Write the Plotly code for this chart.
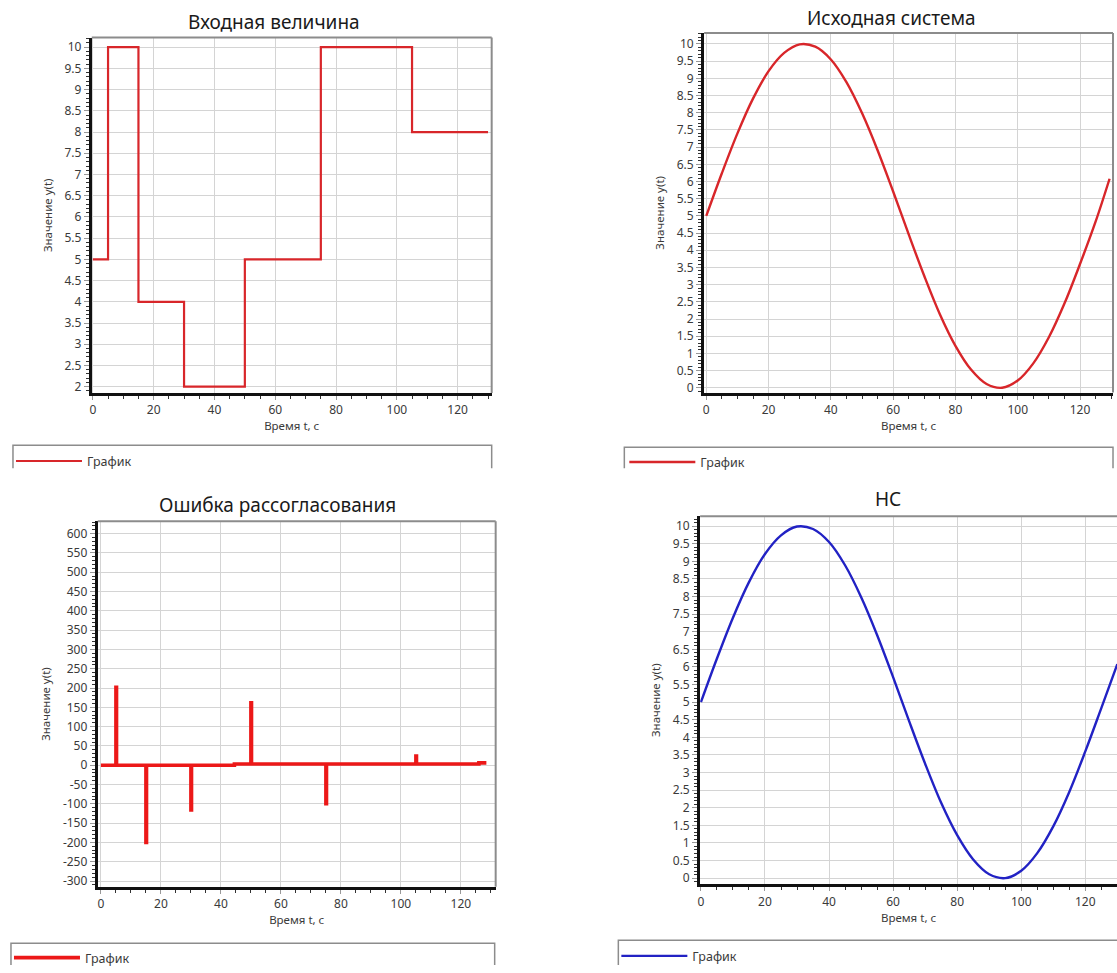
import plotly.graph_objects as go

# ---------------- data ----------------
input_t = [0, 5, 15, 30, 50, 75, 105, 130]
input_y = [5, 10, 4, 2, 5, 10, 8, 8]

sys_t = [0, 5, 10, 15, 20, 25, 30, 35, 40, 45, 50, 55, 60, 65, 70,
         75, 80, 85, 90, 95, 100, 105, 110, 115, 120, 125, 129.5]
sys_y = [5.0, 6.24, 7.4, 8.41, 9.21, 9.74, 9.99, 9.92, 9.55, 8.89, 7.99, 6.91, 5.71, 4.46, 3.25,
         2.14, 1.22, 0.53, 0.11, 0.0, 0.21, 0.71, 1.47, 2.45, 3.6, 4.83, 6.08]

err_t = [0, 5, 5.2, 15, 15.2, 30, 30.2, 44.5, 50, 50.2, 75, 75.2, 105, 105.2, 126, 128.5]
err_y = [0, 202, 0, -200, 0, -116, 0, 3, 162, 3, -100, 3, 24, 3, 6, 6]

nn_t = [0, 5, 10, 15, 20, 25, 30, 35, 40, 45, 50, 55, 60, 65, 70,
        75, 80, 85, 90, 95, 100, 105, 110, 115, 120, 125, 130]
nn_y = [5.0, 6.24, 7.4, 8.41, 9.21, 9.74, 9.99, 9.92, 9.55, 8.89, 7.99, 6.91, 5.71, 4.46, 3.25,
        2.14, 1.22, 0.53, 0.11, 0.0, 0.21, 0.71, 1.47, 2.45, 3.6, 4.83, 6.08]

x_ticks = [0, 20, 40, 60, 80, 100, 120]
y_ticks_in = [2 + 0.5 * i for i in range(17)]
y_ticks_sin = [0.5 * i for i in range(21)]
y_ticks_err = [-300 + 50 * i for i in range(19)]

titles = ["Входная величина", "Исходная система", "Ошибка рассогласования", "НС"]
x_title = "Время t, с"
y_title = "Значение y(t)"
legend_name = "График"

# ---------------- styling helpers ----------------
W, H = 1117, 973


def px(x):
    return x / W


def py(y):
    return 1 - y / H


def fmt(v):
    return ("%g" % v)


RED = "#d8262a"
RED2 = "#ec1818"
BLUE = "#2222c4"
FAM = "Noto Sans, Open Sans, sans-serif"
TICKFONT = dict(family=FAM, size=12, color="#3a3a3a")
TITLEFONT = dict(family=FAM, size=11.5, color="#3a3a3a")

fig = go.Figure()
fig.add_trace(go.Scatter(x=input_t, y=input_y, mode="lines", line=dict(color=RED, width=2.2, shape="hv"),
                         name=legend_name, xaxis="x", yaxis="y", legend="legend"))
fig.add_trace(go.Scatter(x=sys_t, y=sys_y, mode="lines",
                         line=dict(color=RED, width=2.4, shape="spline", smoothing=1.0, simplify=False),
                         name=legend_name, xaxis="x2", yaxis="y2", legend="legend2"))
fig.add_trace(go.Scatter(x=err_t, y=err_y, mode="lines", line=dict(color=RED2, width=3.6, shape="hv"),
                         name=legend_name, xaxis="x3", yaxis="y3", legend="legend3"))
fig.add_trace(go.Scatter(x=nn_t, y=nn_y, mode="lines",
                         line=dict(color=BLUE, width=2.4, shape="spline", smoothing=1.0, simplify=False),
                         name=legend_name, xaxis="x4", yaxis="y4", legend="legend4"))


def xax(domain, rng, anchor):
    return dict(domain=domain, range=rng, anchor=anchor,
                tickmode="array", tickvals=x_ticks, ticktext=[fmt(v) for v in x_ticks],
                showgrid=True, gridcolor="#d4d4d4", gridwidth=1.2, zeroline=False,
                showline=True, linecolor="#111111", linewidth=3,
                ticks="outside", ticklen=4, tickcolor="#999999", tickwidth=1,
                minor=dict(dtick=5, tick0=0, ticks="outside", ticklen=3, tickcolor="#333333",
                           tickwidth=1, showgrid=False),
                tickfont=TICKFONT, title=dict(text=x_title, font=TITLEFONT, standoff=3),
                fixedrange=True)


def yax(domain, rng, anchor, ticks, minor_dtick):
    return dict(domain=domain, range=rng, anchor=anchor,
                tickmode="array", tickvals=ticks, ticktext=[fmt(v) for v in ticks],
                showgrid=True, gridcolor="#d4d4d4", gridwidth=1.2, zeroline=False,
                showline=True, linecolor="#111111", linewidth=3,
                ticks="outside", ticklen=5, tickcolor="#999999", tickwidth=1,
                minor=dict(dtick=minor_dtick, ticks="outside", ticklen=3, tickcolor="#333333",
                           tickwidth=1, showgrid=False),
                tickfont=TICKFONT, title=dict(text=y_title, font=TITLEFONT, standoff=10),
                fixedrange=True)


layout = dict(
    width=W, height=H, margin=dict(l=0, r=0, t=0, b=0),
    paper_bgcolor="white", plot_bgcolor="white",
    xaxis=xax([px(89), px(490)], [-0.36, 131.2], "y"),
    yaxis=yax([py(397), py(38)], [1.853, 10.226], "x", y_ticks_in, 0.1),
    xaxis2=xax([px(703), px(1113)], [-0.7, 130.6], "y2"),
    yaxis2=yax([py(396.7), py(33.3)], [-0.14, 10.32], "x2", y_ticks_sin, 0.1),
    xaxis3=xax([px(95), px(494)], [-1.06, 131.6], "y3"),
    yaxis3=yax([py(896), py(526.7)], [-315, 632], "x3", y_ticks_err, 10),
    xaxis4=xax([px(699), 1.0], [-0.25, 129.9], "y4"),
    yaxis4=yax([py(893.3), py(521.7)], [-0.17, 10.28], "x4", y_ticks_sin, 0.1),
    showlegend=True,
)

LEGFONT = dict(family=FAM, size=12.5, color="#3a3a3a")
leg_pos = [(8, 451), (623, 452), (6, 953), (615, 951)]
for i, (lx, ly) in enumerate(leg_pos):
    key = "legend" if i == 0 else "legend%d" % (i + 1)
    layout[key] = dict(x=px(lx), y=py(ly), xanchor="left", yanchor="top",
                       bgcolor="rgba(0,0,0,0)", borderwidth=0, font=LEGFONT,
                       itemwidth=66, orientation="h")

fig.update_layout(**layout)

# subplot titles
title_pos = [(272, 22), (891, 18), (275, 510), (887, 504)]
for t, (tx, ty) in zip(titles, title_pos):
    fig.add_annotation(text=t, x=px(tx), y=py(ty), xref="paper", yref="paper",
                       xanchor="center", yanchor="middle", showarrow=False,
                       font=dict(family=FAM, size=19, color="#1a1a1a"))

# gray top / right frame of each plot area
for i in range(4):
    suf = "" if i == 0 else str(i + 1)
    xr, yr = "x%s domain" % suf, "y%s domain" % suf
    fig.add_shape(type="line", xref=xr, yref=yr, x0=0, x1=1, y0=1, y1=1,
                  line=dict(color="#8c8c8c", width=2))
    if i != 3:
        fig.add_shape(type="line", xref=xr, yref=yr, x0=1, x1=1, y0=0, y1=1,
                      line=dict(color="#8c8c8c", width=2))

# legend frames (cropped at the bottom in the reference)
frames = [(10, 490, 450, 473), (623, 1113, 452, 473), (8, 493, 953, 975), (617, 1120, 950, 975)]
for x0, x1, yt, yb in frames:
    path = "M %f,%f L %f,%f L %f,%f L %f,%f" % (px(x0), py(yb), px(x0), py(yt), px(x1), py(yt), px(x1), py(yb))
    fig.add_shape(type="path", xref="paper", yref="paper", path=path,
                  line=dict(color="#8c8c8c", width=1.5))

fig.write_html("out.html")
